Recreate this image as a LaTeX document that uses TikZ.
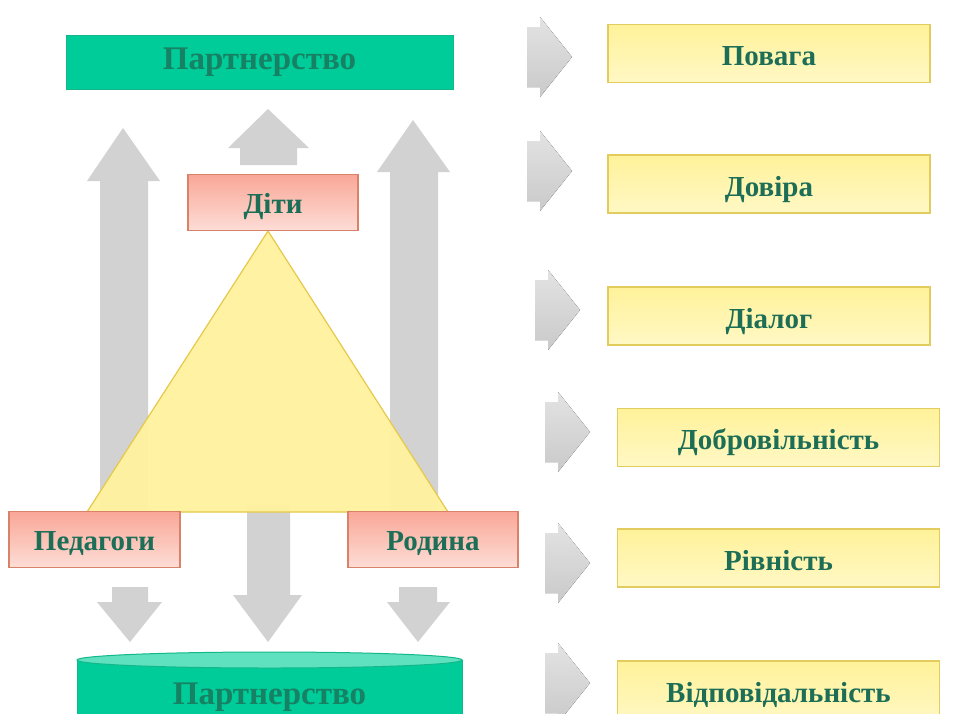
\documentclass[tikz,border=0pt]{standalone}
\usepackage{fontspec}
\setmainfont{Liberation Serif}
\definecolor{txtgreen}{HTML}{1D6E57}
\definecolor{teal1}{HTML}{00CC99}
\definecolor{teal2}{HTML}{12B88A}
\definecolor{tealtop}{HTML}{5FE0BE}
\definecolor{salmontop}{HTML}{F9A797}
\definecolor{salmonbot}{HTML}{FDDDD6}
\definecolor{salmonline}{HTML}{D8826A}
\definecolor{ytop}{HTML}{FFF29A}
\definecolor{ybot}{HTML}{FFF8C4}
\definecolor{yline}{HTML}{E3CC5E}
\definecolor{tri}{HTML}{FFF3A0}
\definecolor{triline}{HTML}{E6C84A}
\definecolor{arrowgray}{HTML}{D2D2D2}
\begin{document}
\begin{tikzpicture}[x=1pt,y=-1pt,
  lbl/.style={font=\bfseries\fontsize{29}{29}\selectfont, text=txtgreen},
  bigl/.style={font=\bfseries\fontsize{33}{33}\selectfont, text=txtgreen!80!teal1},
  ybox/.style={draw=yline, line width=1.2pt, top color=ytop, bottom color=ybot,
    minimum width=322pt, minimum height=58pt, inner sep=0pt, lbl,
    text height=24pt, text depth=0pt},
  sbox/.style={draw=salmonline, line width=1.2pt, top color=salmontop, bottom color=salmonbot,
    minimum width=170pt, minimum height=56pt, inner sep=0pt, lbl,
    text height=22pt, text depth=0pt},
  gbox/.style={draw=teal2, line width=1pt, fill=teal1, inner sep=0pt, bigl},
  grayarrow/.style={fill=arrowgray},
  chev/.style={top color=gray!22, bottom color=gray!42}
]
\useasboundingbox[fill=white] (0,0) rectangle (971,713);

% tall up arrows
\fill[grayarrow] (100,510) -- (100,181) -- (87,181) -- (123,128) -- (160,181) -- (148,181) -- (148,510) -- cycle;
\fill[grayarrow] (390,510) -- (390,172) -- (377,172) -- (413,120) -- (450,172) -- (438,172) -- (438,510) -- cycle;
% small up arrow above children
\fill[grayarrow] (240,165) -- (240,148) -- (228,148) -- (268,109) -- (309,148) -- (297,148) -- (297,165) -- cycle;
% central down arrow
\fill[grayarrow] (247,505) -- (290,505) -- (290,595) -- (302,595) -- (268,642) -- (233,595) -- (247,595) -- cycle;
% small down arrows
\fill[grayarrow] (112,587) -- (148,587) -- (148,602) -- (162,602) -- (130,642) -- (97,602) -- (112,602) -- cycle;
\fill[grayarrow] (399,587) -- (437,587) -- (437,602) -- (450,602) -- (418,642) -- (387,602) -- (399,602) -- cycle;

% triangle
\filldraw[fill=tri, fill opacity=0.96, draw=triline, line width=1.2pt] (268,231) -- (448,512) -- (87,512) -- cycle;

% top partnership
\node[gbox, minimum width=387pt, minimum height=54pt] (ptop) at (259.5,62) {Партнерство};

% children, teachers, family
\node[sbox] (dity) at (273,202.5) {Діти};
\node[sbox, minimum width=171pt] (ped) at (94.5,539.5) {Педагоги};
\node[sbox] (rod) at (433,539.5) {Родина};

% bottom cylinder
\filldraw[fill=teal1, draw=teal2, line width=1pt] (77,660) -- (77,730) -- (462,730) -- (462,660) -- cycle;
\filldraw[fill=tealtop, draw=teal2, line width=1pt] (269.5,660) ellipse [x radius=192.5, y radius=8];
\node[bigl] (pbot) at (269.5,697) {Партнерство};

% right chevrons
\foreach \x/\y in {527/57, 527/171, 535/310, 545/432, 545/563, 545/683}{
  \fill[chev] (\x,\y-30) -- (\x+13,\y-30) -- (\x+13,\y-40) -- (\x+45,\y) -- (\x+13,\y+40) -- (\x+13,\y+30) -- (\x,\y+30) -- cycle;
}

% right boxes
\node[ybox] (b1) at (769,53.5) {Повага};
\node[ybox] (b2) at (769,184) {Довіра};
\node[ybox] (b3) at (769,316) {Діалог};
\node[ybox] (b4) at (778.5,437.5) {Добровільність};
\node[ybox] (b5) at (778.5,558) {Рівність};
\node[ybox, minimum height=62pt] (b6) at (778.5,692) {};
\node[lbl] (b6t) at (778.5,695) {Відповідальність};
\end{tikzpicture}
\end{document}
